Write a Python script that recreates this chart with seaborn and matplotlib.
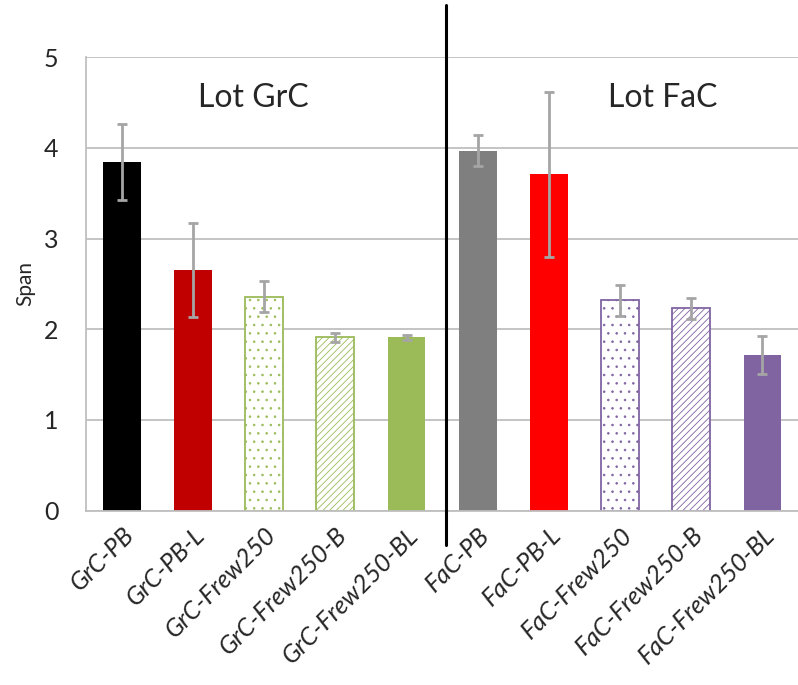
import matplotlib
matplotlib.use("Agg")
import matplotlib.pyplot as plt
import seaborn as sns

# data
samples = ["GrC-PB", "GrC-PB-L", "GrC-Frew250", "GrC-Frew250-B", "GrC-Frew250-BL",
           "FaC-PB", "FaC-PB-L", "FaC-Frew250", "FaC-Frew250-B", "FaC-Frew250-BL"]
span = [3.84, 2.65, 2.36, 1.91, 1.91, 3.97, 3.71, 2.32, 2.23, 1.72]
span_err = [0.42, 0.52, 0.17, 0.05, 0.03, 0.17, 0.91, 0.17, 0.12, 0.21]

fill_colors = ["#000000", "#C00000", "white", "white", "#9BBB59",
               "#7F7F7F", "#FF0000", "white", "white", "#8064A2"]
edge_colors = ["#000000", "#C00000", "#9BBB59", "#9BBB59", "#9BBB59",
               "#7F7F7F", "#FF0000", "#8064A2", "#8064A2", "#8064A2"]
hatches = [None, None, "..", "/////", None, None, None, "..", "/////", None]

sns.set_style("white")
plt.rcParams['font.family'] = ['Lato', 'DejaVu Sans']
plt.rcParams['hatch.linewidth'] = 0.6

fig = plt.figure(figsize=(7.98, 6.85), dpi=100)
ax = fig.add_axes([0.108, 0.2545, 0.892, 0.662])

sns.barplot(x=samples, y=span, hue=samples, palette=fill_colors, legend=False,
            width=0.53, saturation=1, ax=ax, zorder=2)

for patch, fc, ec, h in zip(ax.patches, fill_colors, edge_colors, hatches):
    patch.set_facecolor(fc)
    patch.set_edgecolor(ec)
    patch.set_linewidth(1.3 if h else 0)
    if h:
        patch.set_hatch(h)

ax.errorbar(range(len(samples)), span, yerr=span_err, fmt='none',
            ecolor='#A5A5A5', elinewidth=2, capsize=3.5, capthick=2, zorder=3)

ax.set_ylim(0, 5)
ax.set_xlim(-0.5, len(samples) - 0.5)
ax.set_yticks([0, 1, 2, 3, 4, 5])
ax.yaxis.grid(True, color='#BFBFBF', linewidth=1.3, zorder=0)
ax.set_axisbelow(True)
for side in ['top', 'right']:
    ax.spines[side].set_visible(False)
for side in ['left', 'bottom']:
    ax.spines[side].set_color('#BFBFBF')
    ax.spines[side].set_linewidth(1.3)

ax.tick_params(axis='y', length=0, pad=20, labelsize=18)
ax.tick_params(axis='x', length=0, pad=9)
ax.set_xticks(range(len(samples)))
ax.set_xticklabels(samples, rotation=45, ha='right', rotation_mode='anchor',
                   fontsize=18, style='italic')
ax.set_ylabel('Span', fontsize=15, labelpad=6)
ax.set_xlabel('')

# separator between the two lots
ax.axvline(4.55, ymin=-0.076, ymax=1.115, color='black', linewidth=2.2,
           clip_on=False, zorder=4)

ax.text(1.85, 4.55, 'Lot GrC', fontsize=23, ha='center', va='center')
ax.text(7.6, 4.55, 'Lot FaC', fontsize=23, ha='center', va='center')

fig.savefig('out.png', dpi=100)
